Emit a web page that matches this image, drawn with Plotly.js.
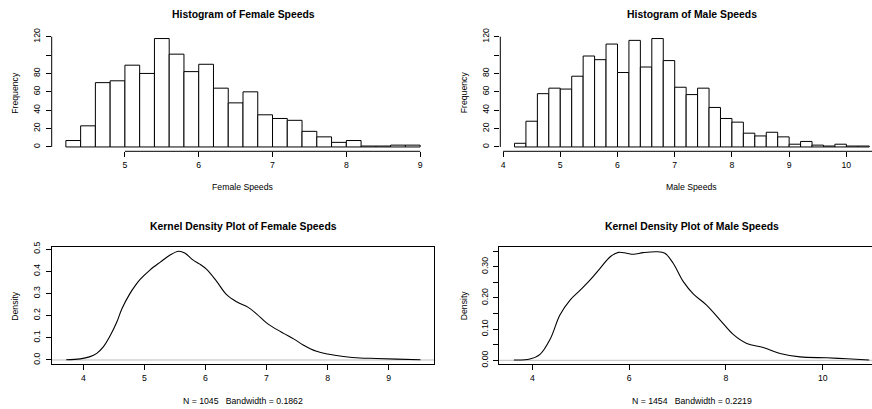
<!DOCTYPE html>
<html>
<head>
<meta charset="utf-8">
<script src="https://cdn.plot.ly/plotly-3.0.1.min.js"></script>
<style>
  html, body { margin: 0; padding: 0; background: #ffffff; }
  #chart { width: 872px; height: 409px; }
</style>
</head>
<body>
<div id="chart"></div>
<script>
// ---- Histogram data: lower bin edges (width 0.2) and counts ----
const binWidth = 0.2;
const femaleBinStarts = [4.2, 4.4, 4.6, 4.8, 5.0, 5.2, 5.4, 5.6, 5.8, 6.0, 6.2, 6.4,
                         6.6, 6.8, 7.0, 7.2, 7.4, 7.6, 7.8, 8.0, 8.2, 8.4, 8.6, 8.8];
const femaleCounts = [7, 23, 70, 72, 89, 80, 118, 101, 82, 90, 64, 48,
                      60, 35, 31, 29, 17, 11, 5, 7, 1, 1, 2, 2];

const maleBinStarts = [4.2, 4.4, 4.6, 4.8, 5.0, 5.2, 5.4, 5.6, 5.8, 6.0, 6.2, 6.4,
                       6.6, 6.8, 7.0, 7.2, 7.4, 7.6, 7.8, 8.0, 8.2, 8.4, 8.6, 8.8,
                       9.0, 9.2, 9.4, 9.6, 9.8, 10.0, 10.2];
const maleCounts = [4, 28, 58, 64, 63, 77, 99, 95, 112, 81, 116, 87,
                    118, 94, 65, 57, 64, 43, 31, 27, 15, 12, 16, 11,
                    3, 6, 2, 1, 3, 1, 1];

// ---- Kernel density estimates ----
const femaleDensX = [3.72, 3.95, 4.10, 4.22, 4.33, 4.45, 4.55, 4.63, 4.76, 4.85, 4.93, 5.09,
                     5.26, 5.42, 5.56, 5.66, 5.80, 5.90, 6.02, 6.18, 6.35, 6.51, 6.70, 6.84,
                     7.00, 7.11, 7.28, 7.45, 7.60, 7.82, 8.00, 8.26, 8.53, 8.80, 9.13, 9.52];
const femaleDensY = [0.001, 0.005, 0.014, 0.030, 0.060, 0.115, 0.172, 0.230, 0.298, 0.335, 0.363, 0.405,
                     0.441, 0.473, 0.490, 0.482, 0.450, 0.433, 0.408, 0.355, 0.293, 0.262, 0.237, 0.207,
                     0.167, 0.147, 0.120, 0.094, 0.068, 0.039, 0.027, 0.016, 0.009, 0.007, 0.004, 0.001];

const maleDensX = [3.62, 3.95, 4.16, 4.37, 4.57, 4.78, 4.99, 5.19, 5.40, 5.61, 5.78, 5.95,
                   6.09, 6.29, 6.57, 6.74, 6.91, 7.12, 7.33, 7.60, 7.88, 8.15, 8.43, 8.77,
                   9.12, 9.53, 10.08, 10.50, 10.96];
const maleDensY = [0.001, 0.004, 0.019, 0.068, 0.145, 0.193, 0.225, 0.257, 0.295, 0.332, 0.346, 0.343,
                   0.340, 0.345, 0.348, 0.343, 0.311, 0.252, 0.212, 0.177, 0.129, 0.083, 0.054, 0.041,
                   0.022, 0.011, 0.008, 0.005, 0.001];

// ---- Text ----
const titles = ["Histogram of Female Speeds", "Histogram of Male Speeds",
                "Kernel Density Plot of Female Speeds", "Kernel Density Plot of Male Speeds"];
const xLabels = ["Female Speeds", "Male Speeds",
                 "N = 1045   Bandwidth = 0.1862", "N = 1454   Bandwidth = 0.2219"];
const yLabels = ["Frequency", "Frequency", "Density", "Density"];

const femaleHistXTicks = [5, 6, 7, 8, 9];
const maleHistXTicks = [4, 5, 6, 7, 8, 9, 10];
const histYTicks = [0, 20, 40, 60, 80, 100, 120];
const histYText = ["0", "20", "40", "60", "80", "", "120"];
const femaleDensXTicks = [4, 5, 6, 7, 8, 9];
const femaleDensYTicks = [0, 0.1, 0.2, 0.3, 0.4, 0.5];
const femaleDensYText = ["0.0", "0.1", "0.2", "0.3", "0.4", "0.5"];
const maleDensXTicks = [4, 6, 8, 10];
const maleDensYTicks = [0, 0.05, 0.10, 0.15, 0.20, 0.25, 0.30, 0.35];
const maleDensYText = ["0.00", "", "0.10", "", "0.20", "", "0.30", ""];

// ---- Page geometry (pixels) ----
const W = 872, H = 409;
const FONT = "Liberation Sans, Arial, Helvetica, sans-serif";
const px = v => v / W;
const py = v => 1 - v / H;

const leftX = [51.7, 434.3];
const rightHistX = [500.3, 872];
const rightDensX = [499.3, 872];
const topY = [34.2, 151.3];
const botY = [247.3, 364.3];

function axisBase(extra) {
  return Object.assign({
    showgrid: false, zeroline: false, showline: false,
    ticks: "outside", ticklen: 5, tickwidth: 1, tickcolor: "#000",
    tickfont: { family: FONT, size: 8.7, color: "#000" },
    fixedrange: true
  }, extra);
}

const barStyle = { color: "#ffffff", line: { color: "#000000", width: 1 } };

const traces = [
  { type: "bar", x: femaleBinStarts, y: femaleCounts, width: binWidth, offset: 0,
    marker: barStyle, xaxis: "x", yaxis: "y", hoverinfo: "skip" },
  { type: "bar", x: maleBinStarts, y: maleCounts, width: binWidth, offset: 0,
    marker: barStyle, xaxis: "x2", yaxis: "y2", hoverinfo: "skip" },
  { type: "scatter", mode: "lines", x: femaleDensX, y: femaleDensY,
    line: { color: "#000", width: 1.1, shape: "spline", smoothing: 1 },
    xaxis: "x3", yaxis: "y3", hoverinfo: "skip" },
  { type: "scatter", mode: "lines", x: maleDensX, y: maleDensY,
    line: { color: "#000", width: 1.1, shape: "spline", smoothing: 1 },
    xaxis: "x4", yaxis: "y4", hoverinfo: "skip" }
];

const layout = {
  width: W, height: H,
  margin: { l: 0, r: 0, t: 0, b: 0 },
  paper_bgcolor: "#ffffff", plot_bgcolor: "rgba(0,0,0,0)",
  showlegend: false, bargap: 0,
  font: { family: FONT, color: "#000" },

  xaxis: axisBase({ domain: [px(leftX[0]), px(leftX[1])], range: [4.008, 9.192],
                    tickvals: femaleHistXTicks, anchor: "y" }),
  yaxis: axisBase({ domain: [py(topY[1]), py(topY[0])], range: [-4.72, 122.72],
                    tickvals: histYTicks, ticktext: histYText, tickangle: -90, anchor: "x",
                    ticklabelstandoff: 2 }),

  xaxis2: axisBase({ domain: [px(rightHistX[0]), px(rightHistX[1])], range: [3.952, 10.448],
                     tickvals: maleHistXTicks, anchor: "y2" }),
  yaxis2: axisBase({ domain: [py(topY[1]), py(topY[0])], range: [-4.72, 122.72],
                     tickvals: histYTicks, ticktext: histYText, tickangle: -90, anchor: "x2",
                     ticklabelstandoff: 2 }),

  xaxis3: axisBase({ domain: [px(leftX[0]), px(leftX[1])], range: [3.482, 9.747],
                     tickvals: femaleDensXTicks, anchor: "y3",
                     showline: true, linecolor: "#000", linewidth: 1, mirror: true }),
  yaxis3: axisBase({ domain: [py(botY[1]), py(botY[0])], range: [-0.0194, 0.5077],
                     tickvals: femaleDensYTicks, ticktext: femaleDensYText, tickangle: -90, anchor: "x3",
                     showline: true, linecolor: "#000", linewidth: 1, mirror: true,
                     ticklabelstandoff: 2 }),

  xaxis4: axisBase({ domain: [px(rightDensX[0]), px(rightDensX[1])], range: [3.318, 11.018],
                     tickvals: maleDensXTicks, anchor: "y4",
                     showline: true, linecolor: "#000", linewidth: 1, mirror: true }),
  yaxis4: axisBase({ domain: [py(botY[1]), py(botY[0])], range: [-0.0128, 0.3622],
                     tickvals: maleDensYTicks, ticktext: maleDensYText, tickangle: -90, anchor: "x4",
                     showline: true, linecolor: "#000", linewidth: 1,
                     ticklabelstandoff: 2 }),

  shapes: [
    // histogram axis lines spanning the first to last tick
    { type: "line", xref: "x", yref: "y domain", x0: femaleHistXTicks[0], x1: femaleHistXTicks[femaleHistXTicks.length - 1],
      y0: 0, y1: 0, line: { color: "#000", width: 1 } },
    { type: "line", xref: "x domain", yref: "y", x0: 0, x1: 0, y0: histYTicks[0], y1: histYTicks[histYTicks.length - 1],
      line: { color: "#000", width: 1 } },
    { type: "line", xref: "x2", yref: "y2 domain", x0: maleHistXTicks[0], x1: 10.448,
      y0: 0, y1: 0, line: { color: "#000", width: 1 } },
    { type: "line", xref: "x2 domain", yref: "y2", x0: 0, x1: 0, y0: histYTicks[0], y1: histYTicks[histYTicks.length - 1],
      line: { color: "#000", width: 1 } },
    // zero reference lines in the density panels
    { type: "line", xref: "x3 domain", yref: "y3", x0: 0, x1: 1, y0: 0, y1: 0,
      line: { color: "#bebebe", width: 1 }, layer: "below" },
    { type: "line", xref: "x4 domain", yref: "y4", x0: 0, x1: 1, y0: 0, y1: 0,
      line: { color: "#bebebe", width: 1 }, layer: "below" }
  ],
  annotations: []
};

// panel titles and axis labels
const centersX = [(leftX[0] + leftX[1]) / 2, 691.7, (leftX[0] + leftX[1]) / 2, 691.7];
const titleY = [14, 14, 226.7, 226.7];
const xlabY = [186.5, 186.5, 400.5, 400.5];
const ylabX = [15, 463.5, 15, 463.5];
const ylabY = [(topY[0] + topY[1]) / 2, (topY[0] + topY[1]) / 2, (botY[0] + botY[1]) / 2, (botY[0] + botY[1]) / 2];

for (let i = 0; i < 4; i++) {
  layout.annotations.push({
    xref: "paper", yref: "paper", x: px(centersX[i]), y: py(titleY[i]),
    xanchor: "center", yanchor: "middle", showarrow: false,
    text: "<b>" + titles[i] + "</b>", font: { family: FONT, size: 10.4, color: "#000" }
  });
  layout.annotations.push({
    xref: "paper", yref: "paper", x: px(centersX[i]), y: py(xlabY[i]),
    xanchor: "center", yanchor: "middle", showarrow: false,
    text: xLabels[i].replace(/ {3}/g, "&nbsp;&nbsp;&nbsp;"), font: { family: FONT, size: 8.7, color: "#000" }
  });
  layout.annotations.push({
    xref: "paper", yref: "paper", x: px(ylabX[i]), y: py(ylabY[i]),
    xanchor: "center", yanchor: "middle", showarrow: false, textangle: -90,
    text: yLabels[i], font: { family: FONT, size: 8.7, color: "#000" }
  });
}

Plotly.newPlot("chart", traces, layout, { staticPlot: true, displayModeBar: false });
</script>
</body>
</html>
